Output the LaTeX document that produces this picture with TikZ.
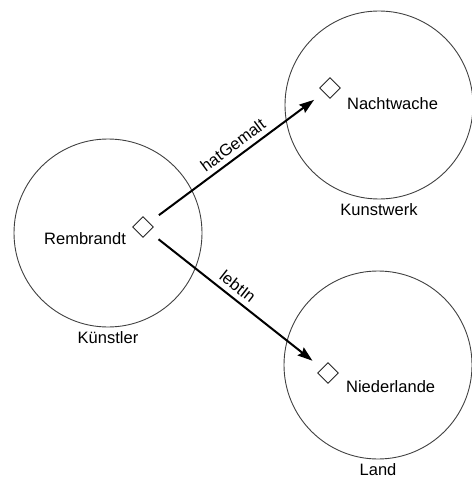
\documentclass[tikz,border=0pt]{standalone}
\usepackage{fontspec}
\setmainfont{Liberation Sans}
\usetikzlibrary{positioning, shapes.geometric, arrows.meta}

\begin{document}
\begin{tikzpicture}[x=1pt, y=-1pt,
		cls/.style={circle, draw=black!75, line width=0.9pt, minimum size=188pt, inner sep=0pt},
		inst/.style={diamond, draw=black!85, line width=0.9pt, minimum size=21pt, inner sep=0pt},
		lbl/.style={font=\fontsize{16.5}{19}\selectfont, inner sep=1pt},
		rel/.style={-{Stealth[length=15pt, width=10pt, inset=2pt]}, line width=2pt, shorten <=12pt, shorten >=12pt}]
		\useasboundingbox (0,0) rectangle (471,481);

		\node [cls] (kuenstler) at (108,233) {};
		\node [cls] (kunstwerk) at (379,105) {};
		\node [cls] (land) at (378,365) {};

		\node [lbl, below=3pt of kuenstler] {Künstler};
		\node [lbl, below=3pt of kunstwerk] {Kunstwerk};
		\node [lbl, below=3pt of land] {Land};

		\node [inst] (R) at (143,227) {};
		\node [inst] (N) at (330,88) {};
		\node [inst] (L) at (328,373) {};

		\node [lbl, left =5pt of R, yshift=-12pt] {Rembrandt};
		\node [lbl, right=5pt of N, yshift=-16pt] {Nachtwache};
		\node [lbl, right=6pt of L, yshift=-14pt] {Niederlande};

		\path[rel] (R) edge node [lbl, above=4pt, sloped, pos=0.52] {hatGemalt} (N);
		\path[rel] (R) edge node [lbl, above=4pt, sloped, pos=0.47] {lebtIn} (L);
	\end{tikzpicture}
\end{document}
